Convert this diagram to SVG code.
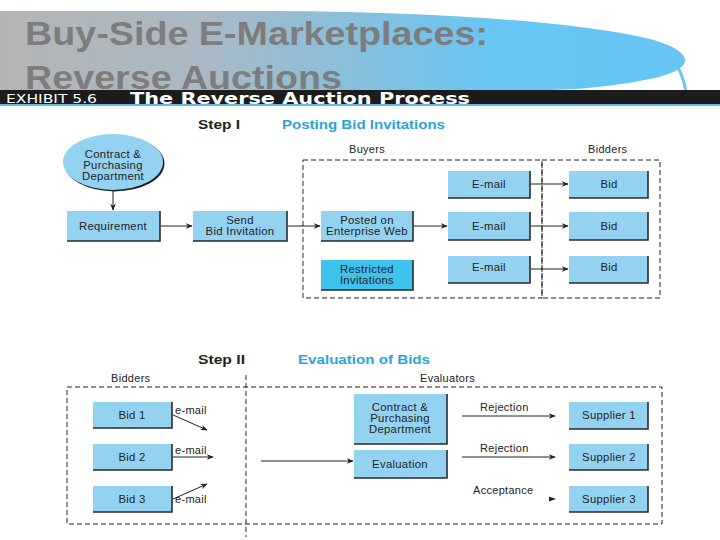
<svg xmlns="http://www.w3.org/2000/svg" width="720" height="540" viewBox="0 0 720 540">
<defs>
<linearGradient id="hg" x1="0" y1="0" x2="1" y2="0">
<stop offset="0" stop-color="#b4b4b4"/>
<stop offset="0.3" stop-color="#a9b9c5"/>
<stop offset="0.72" stop-color="#68c6f3"/>
<stop offset="1" stop-color="#66c5f5"/>
</linearGradient>
<marker id="ah" viewBox="0 0 10 10" refX="9" refY="5" markerWidth="7" markerHeight="7" orient="auto" markerUnits="userSpaceOnUse">
<path d="M0,1 L10,5 L0,9 L3,5 Z" fill="#222"/>
</marker>
</defs>
<style>
.box{fill:#93d3f1}
.dark{fill:#3ec2ee}
.sh{fill:none;stroke:#2a2a2a;stroke-width:1.6}
.t{font-family:"Liberation Sans",Arial,sans-serif;font-size:11.3px;letter-spacing:0.3px;fill:#222;text-anchor:middle}
.lbl{font-family:"Liberation Sans",Arial,sans-serif;font-size:11px;letter-spacing:0.3px;fill:#222}
.step{font-family:"Liberation Sans",Arial,sans-serif;font-size:13px;font-weight:bold;fill:#222}
.stepb{font-family:"Liberation Sans",Arial,sans-serif;font-size:13px;font-weight:bold;fill:#2aa5d8}
.dash{fill:none;stroke:#222;stroke-width:1;stroke-dasharray:5,3}
.ln{fill:none;stroke:#222;stroke-width:1;marker-end:url(#ah)}
</style>
<rect width="720" height="540" fill="#fff"/>
<g id="header">
<path d="M0,11 L260,11 C 460,11 610,26 660,42 C 700,56 690,72 645,80 C 612,86 582,90 540,90 L0,90 Z" fill="url(#hg)"/>
<path d="M676,64 C 681,72 684,80 686,92" fill="none" stroke="#66c5f5" stroke-width="3"/>
<text x="25" y="45" font-family="Liberation Sans,Arial,sans-serif" font-size="34" font-weight="bold" fill="#7d7d7d" textLength="463" lengthAdjust="spacingAndGlyphs">Buy-Side E-Marketplaces:</text>
<text x="25" y="89" font-family="Liberation Sans,Arial,sans-serif" font-size="34" font-weight="bold" fill="#7d7d7d" textLength="317" lengthAdjust="spacingAndGlyphs">Reverse Auctions</text>
<rect x="0" y="90" width="720" height="14" fill="#1c1c1c"/>
<rect x="0" y="104" width="720" height="2" fill="#5bbde6"/>
<text x="6" y="103" font-family="DejaVu Sans Condensed,DejaVu Sans,sans-serif" font-size="12.5" fill="#fff" textLength="91" lengthAdjust="spacingAndGlyphs">EXHIBIT 5.6</text>
<text x="130" y="104" font-family="DejaVu Sans,sans-serif" font-size="16" font-weight="bold" fill="#fff" textLength="340" lengthAdjust="spacingAndGlyphs">The Reverse Auction Process</text>
</g>
<g id="step1-title">
<text class="step" x="198" y="129" textLength="42" lengthAdjust="spacingAndGlyphs">Step I</text>
<text class="stepb" x="282" y="129" textLength="163" lengthAdjust="spacingAndGlyphs">Posting Bid Invitations</text>
<text class="lbl" x="349" y="153">Buyers</text>
<text class="lbl" x="588" y="153">Bidders</text>
</g>
<g id="connectors">
<rect class="dash" x="303" y="160" width="239" height="138"/>
<rect class="dash" x="542" y="160" width="118" height="138"/>
<line class="ln" x1="113" y1="191" x2="113" y2="210"/>
<line class="ln" x1="161" y1="226" x2="192" y2="226"/>
<line class="ln" x1="288" y1="226" x2="320" y2="226"/>
<line class="ln" x1="414" y1="226" x2="447" y2="226"/>
<line class="ln" x1="531" y1="184" x2="568" y2="184"/>
<line class="ln" x1="531" y1="226" x2="568" y2="226"/>
<line class="ln" x1="531" y1="269" x2="568" y2="269"/>
<rect class="dash" x="67" y="387" width="595" height="137"/>
<line class="dash" x1="246" y1="375" x2="246" y2="537"/>
<line class="ln" x1="173" y1="415" x2="207" y2="430"/>
<line class="ln" x1="173" y1="457" x2="213" y2="457"/>
<line class="ln" x1="173" y1="499" x2="207" y2="484"/>
<line class="ln" x1="261" y1="461" x2="353" y2="461"/>
<line class="ln" x1="462" y1="416" x2="555" y2="416"/>
<line class="ln" x1="462" y1="457" x2="555" y2="457"/>
<path d="M549,496.5 L556,499 L549,501.5 Z" fill="#222"/>
</g>
<g id="contract1">
<ellipse cx="113" cy="162" rx="50" ry="28" fill="#222" transform="translate(1.5,1.5)"/>
<ellipse cx="113" cy="162" rx="50" ry="28" fill="#93d3f1"/>
<text class="t" x="113" y="158">Contract &amp;</text>
<text class="t" x="113" y="169">Purchasing</text>
<text class="t" x="113" y="180">Department</text>
</g>
<g id="requirement">
<rect class="box" x="67" y="211" width="93" height="30"/><polyline class="sh" points="67,241 160,241 160,211"/>
<text class="t" x="113" y="230">Requirement</text>
</g>
<g id="send">
<rect class="box" x="193" y="211" width="94" height="30"/><polyline class="sh" points="193,241 287,241 287,211"/>
<text class="t" x="240" y="224">Send</text>
<text class="t" x="240" y="235">Bid Invitation</text>
</g>
<g id="posted">
<rect class="box" x="321" y="211" width="92" height="30"/><polyline class="sh" points="321,241 413,241 413,211"/>
<text class="t" x="367" y="224">Posted on</text>
<text class="t" x="367" y="235">Enterprise Web</text>
</g>
<g id="restricted">
<rect class="dark" x="321" y="260" width="92" height="30"/><polyline class="sh" points="321,290 413,290 413,260"/>
<text class="t" x="367" y="273">Restricted</text>
<text class="t" x="367" y="284">Invitations</text>
</g>
<g id="email1">
<rect class="box" x="448" y="171" width="82" height="27"/><polyline class="sh" points="448,198 530,198 530,171"/>
<text class="t" x="489" y="188">E-mail</text>
</g>
<g id="email2">
<rect class="box" x="448" y="212" width="82" height="28"/><polyline class="sh" points="448,240 530,240 530,212"/>
<text class="t" x="489" y="230">E-mail</text>
</g>
<g id="email3">
<rect class="box" x="448" y="256" width="82" height="27"/><polyline class="sh" points="448,283 530,283 530,256"/>
<text class="t" x="489" y="271">E-mail</text>
</g>
<g id="bid-a">
<rect class="box" x="569" y="171" width="79" height="27"/><polyline class="sh" points="569,198 648,198 648,171"/>
<text class="t" x="609" y="188">Bid</text>
</g>
<g id="bid-b">
<rect class="box" x="569" y="212" width="79" height="28"/><polyline class="sh" points="569,240 648,240 648,212"/>
<text class="t" x="609" y="230">Bid</text>
</g>
<g id="bid-c">
<rect class="box" x="569" y="256" width="79" height="27"/><polyline class="sh" points="569,283 648,283 648,256"/>
<text class="t" x="609" y="271">Bid</text>
</g>
<g id="step2-title">
<text class="step" x="198" y="364" textLength="47" lengthAdjust="spacingAndGlyphs">Step II</text>
<text class="stepb" x="298" y="364" textLength="132" lengthAdjust="spacingAndGlyphs">Evaluation of Bids</text>
<text class="lbl" x="111" y="382">Bidders</text>
<text class="lbl" x="420" y="382">Evaluators</text>
<text class="lbl" x="175" y="414">e-mail</text>
<text class="lbl" x="175" y="454">e-mail</text>
<text class="lbl" x="175" y="503">e-mail</text>
<text class="lbl" x="480" y="411">Rejection</text>
<text class="lbl" x="480" y="452">Rejection</text>
<text class="lbl" x="473" y="494">Acceptance</text>
</g>
<g id="bid1">
<rect class="box" x="93" y="402" width="79" height="26"/><polyline class="sh" points="93,428 172,428 172,402"/>
<text class="t" x="132" y="419">Bid 1</text>
</g>
<g id="bid2">
<rect class="box" x="93" y="444" width="79" height="26"/><polyline class="sh" points="93,470 172,470 172,444"/>
<text class="t" x="132" y="461">Bid 2</text>
</g>
<g id="bid3">
<rect class="box" x="93" y="486" width="79" height="26"/><polyline class="sh" points="93,512 172,512 172,486"/>
<text class="t" x="132" y="503">Bid 3</text>
</g>
<g id="contract2">
<rect class="box" x="354" y="394" width="93" height="50"/><polyline class="sh" points="354,444 447,444 447,394"/>
<text class="t" x="400" y="411">Contract &amp;</text>
<text class="t" x="400" y="422">Purchasing</text>
<text class="t" x="400" y="433">Department</text>
</g>
<g id="evaluation">
<rect class="box" x="354" y="450" width="93" height="28"/><polyline class="sh" points="354,478 447,478 447,450"/>
<text class="t" x="400" y="468">Evaluation</text>
</g>
<g id="supplier1">
<rect class="box" x="569" y="402" width="79" height="27"/><polyline class="sh" points="569,429 648,429 648,402"/>
<text class="t" x="609" y="419">Supplier 1</text>
</g>
<g id="supplier2">
<rect class="box" x="569" y="444" width="79" height="26"/><polyline class="sh" points="569,470 648,470 648,444"/>
<text class="t" x="609" y="461">Supplier 2</text>
</g>
<g id="supplier3">
<rect class="box" x="569" y="486" width="79" height="26"/><polyline class="sh" points="569,512 648,512 648,486"/>
<text class="t" x="609" y="503">Supplier 3</text>
</g>
</svg>
